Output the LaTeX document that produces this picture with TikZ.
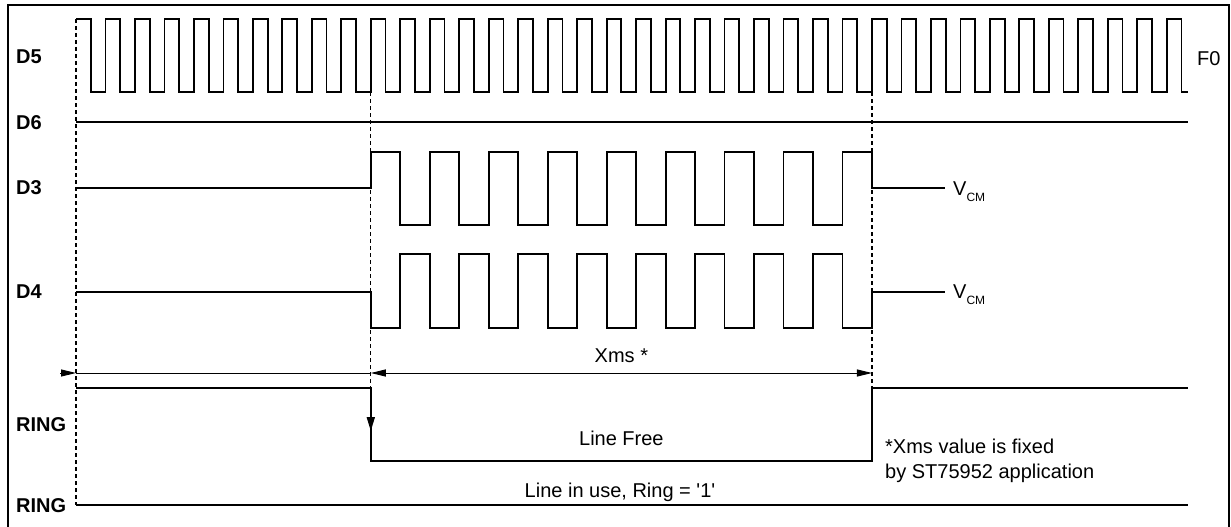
\documentclass[tikz,border=0pt]{standalone}
\usepackage{fontspec}
\setmainfont{Liberation Sans}
\usetikzlibrary{arrows.meta}

\tikzset{
  signal/.style={line width=1.8pt},
  guide/.style={line width=1.1pt, dash pattern=on 4pt off 3pt},
  dim/.style={line width=1pt},
  tip/.style={-{Triangle[length=15pt,width=7pt]}},
  tips/.style={{Triangle[length=15pt,width=7pt]}-{Triangle[length=15pt,width=7pt]}},
  sig/.style={font=\bfseries\fontsize{20}{24}\selectfont, anchor=west, inner sep=0pt},
  txt/.style={font=\fontsize{20}{25}\selectfont, inner sep=0pt},
}

\begin{document}
\begin{tikzpicture}[x=1pt,y=-1pt]
  % Parameter
  \def\per{29.48}  % Periode von F0
  \def\xa{76}      % Startpunkt
  \pgfmathsetmacro{\xb}{\xa+10*\per}  % Beginn Xms
  \pgfmathsetmacro{\xc}{\xa+27*\per}  % Ende Xms
  \def\xe{1188}    % Ende der Signale

  \useasboundingbox (0,0) rectangle (1231,527);

  % Rahmen
  \draw[line width=2.2pt] (8,527) -- (8,5) -- (1229,5) -- (1229,527);

  % Hilfslinien
  \draw[guide] (\xa,19) -- (\xa,505);
  \draw[guide] (\xb,92) -- (\xb,388);
  \draw[guide] (\xc,92) -- (\xc,388);

  % D5 = F0
  \draw[signal] (\xa,19)
    \foreach \k in {0,...,36}{ -- ++(\per/2,0) -- ++(0,73) -- ++(\per/2,0) -- ++(0,-73) }
    -- ++(\per/2,0) -- ++(0,73) -- (\xe,92);

  % D6
  \draw[signal] (\xa,122) -- (\xe,122);

  % D3
  \draw[signal] (\xa,188) -- (\xb,188) -- (\xb,152)
    \foreach \k in {1,...,8}{ -- ++(\per,0) -- ++(0,73) -- ++(\per,0) -- ++(0,-73) }
    -- ++(\per,0) -- ++(0,36) -- (945,188);

  % D4
  \draw[signal] (\xa,292) -- (\xb,292) -- (\xb,328)
    \foreach \k in {1,...,8}{ -- ++(\per,0) -- ++(0,-74) -- ++(\per,0) -- ++(0,74) }
    -- ++(\per,0) -- ++(0,-36) -- (945,292);

  % Zeitmarken
  \draw[dim,tip] (60,373) -- (\xa,373);
  \draw[dim] (\xa,373) -- (\xb,373);
  \draw[dim,tips] (\xb,373) -- (\xc,373);

  % RING oben
  \draw[signal] (\xa,388) -- (\xb,388) -- (\xb,461) -- (\xc,461) -- (\xc,388) -- (\xe,388);
  \draw[signal,-{Triangle[length=14pt,width=8pt]}] (\xb,388) -- (\xb,431);

  % RING unten
  \draw[signal] (\xa,505) -- (\xe,505);

  % Beschriftung
  \node[sig] (d5) at (16,57) {D5};
  \node[sig] (d6) at (16,123) {D6};
  \node[sig] (d3) at (16,188) {D3};
  \node[sig] (d4) at (16,292) {D4};
  \node[sig] (ring1) at (16,425) {RING};
  \node[sig] (ring2) at (16,506) {RING};

  \node[txt,anchor=west] (f0) at (1197,59) {F0};
  \node[txt,anchor=base west] (vcm3) at (953,195) {V\raisebox{-6pt}{\fontsize{12}{12}\selectfont CM}};
  \node[txt,anchor=base west] (vcm4) at (953,298) {V\raisebox{-6pt}{\fontsize{12}{12}\selectfont CM}};

  \node[txt,anchor=base] (xms) at ({(\xb+\xc)/2},362) {Xms *};
  \node[txt,anchor=base] (free) at ({(\xb+\xc)/2},445) {Line Free};
  \node[txt,anchor=base] (inuse) at (620,497) {Line in use, Ring = \textquotesingle1\textquotesingle};
  \node[txt,anchor=base west,align=left] (note) at (885,478) {*Xms value is fixed\\by ST75952 application};
\end{tikzpicture}
\end{document}
